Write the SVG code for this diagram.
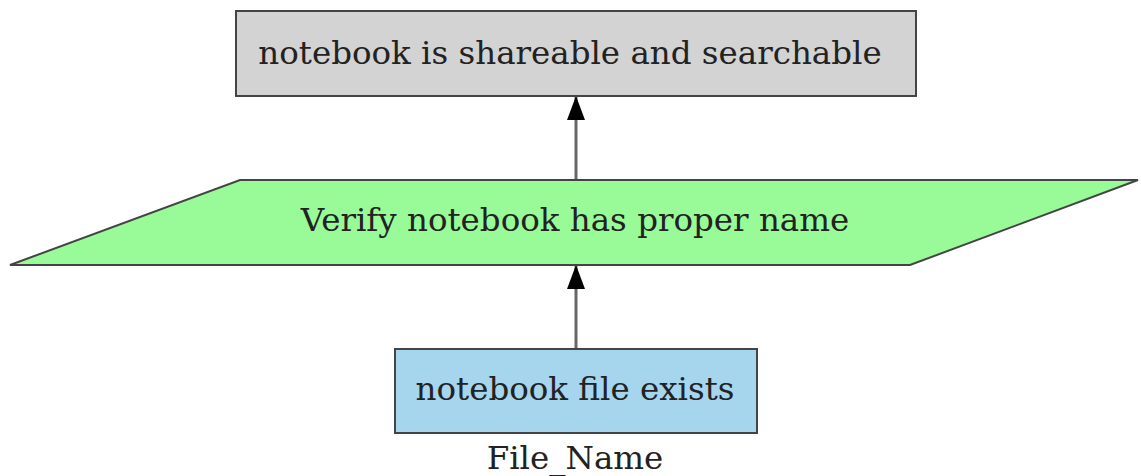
<svg xmlns="http://www.w3.org/2000/svg" width="1141" height="476" viewBox="0 0 1141 476">
<style>
text{font-family:"DejaVu Serif",serif;font-size:32.5px;fill:#222;text-anchor:middle}
.n{stroke:#444;stroke-width:2}
.e{stroke:#666;stroke-width:3;fill:none}
</style>
<defs>
<marker id="ah" viewBox="0 0 24 18" refX="23" refY="9" markerWidth="24" markerHeight="18" markerUnits="userSpaceOnUse" orient="auto">
<path d="M0,0 L24,9 L0,18 Z" fill="#000"/>
</marker>
</defs>
<g id="connectors">
<line class="e" x1="576" y1="180" x2="576" y2="97" marker-end="url(#ah)"/>
<line class="e" x1="576" y1="349" x2="576" y2="266" marker-end="url(#ah)"/>
</g>
<g id="n1">
<rect class="n" x="236" y="11" width="680" height="85" fill="#d3d3d3"/>
<text x="570" y="64">notebook is shareable and searchable</text>
</g>
<g id="n2">
<polygon class="n" points="240,180 1138,180 910,265 10,265" fill="#98fb98"/>
<text x="575" y="231">Verify notebook has proper name</text>
</g>
<g id="n3">
<rect class="n" x="395" y="349" width="362" height="84" fill="#a6d5ee"/>
<text x="575" y="400">notebook file exists</text>
<text x="575" y="469">File_Name</text>
</g>
</svg>
